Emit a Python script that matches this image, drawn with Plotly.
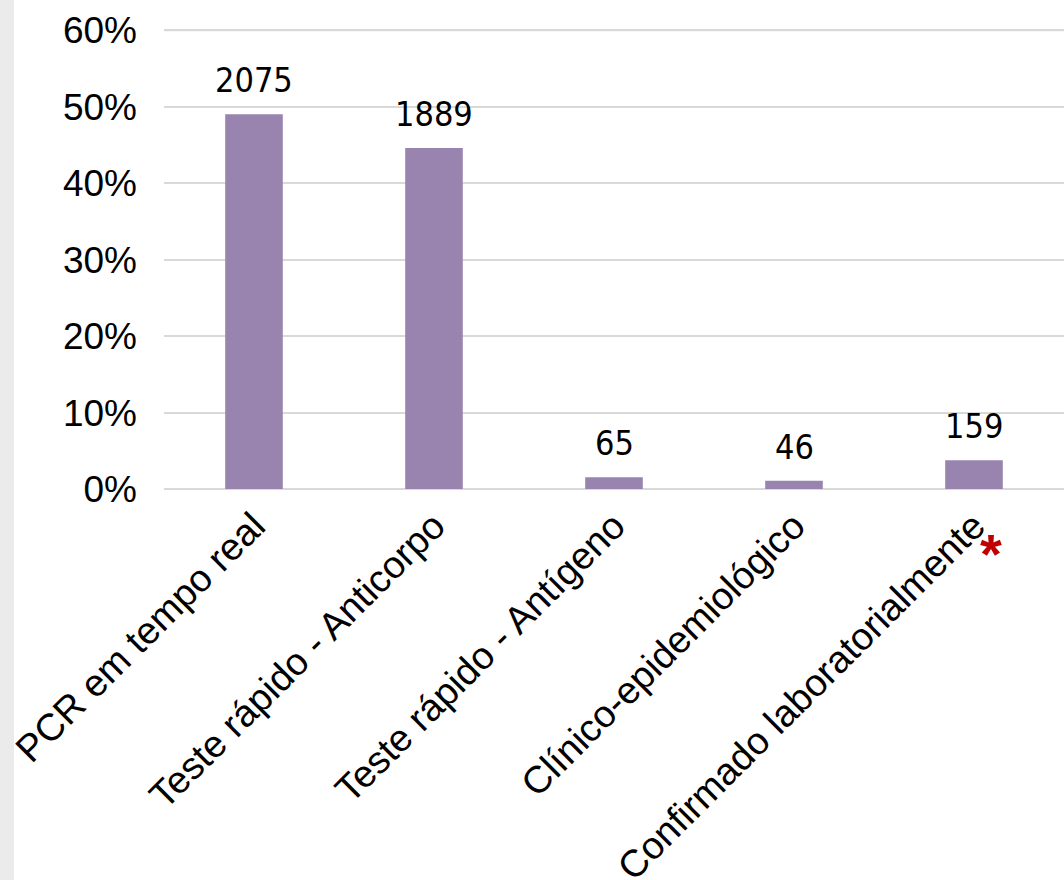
import plotly.graph_objects as go

categories = ["PCR em tempo real", "Teste rápido - Anticorpo", "Teste rápido - Antígeno",
              "Clínico-epidemiológico", "Confirmado laboratorialmente"]
counts = [2075, 1889, 65, 46, 159]
tick_labels = ["PCR em tempo real", "Teste rápido - Anticorpo", "Teste rápido - Antígeno",
               "Clínico-epidemiológico", "Confirmado laboratorialmente"]
y_ticks = [0, 0.1, 0.2, 0.3, 0.4, 0.5, 0.6]
footnote_category = "Confirmado laboratorialmente"

total = sum(counts)
shares = [c / total for c in counts]

GRID = "#d9d9d9"
Y_MAX = 0.62

fig = go.Figure()
fig.add_trace(go.Bar(
    x=categories, y=shares,
    marker=dict(color="#9884ae", line=dict(width=0)),
    width=0.32,
    cliponaxis=False,
    hoverinfo="skip",
))

for cat, s, c in zip(categories, shares, counts):
    fig.add_annotation(x=cat, y=s, text=str(c), showarrow=False,
                       yanchor="bottom", yshift=12,
                       font=dict(family="DejaVu Sans Condensed", size=34, color="black"))

# red asterisk marking the last category
fig.add_annotation(x=footnote_category, y=0, text="<b>*</b>", showarrow=False,
                   xanchor="center", yanchor="middle", xshift=17, yshift=-64,
                   font=dict(family="Liberation Sans", size=56, color="#c00000"))

fig.update_layout(
    width=1064, height=880,
    margin=dict(l=164, r=0, t=15, b=391),
    paper_bgcolor="white", plot_bgcolor="white",
    showlegend=False,
    shapes=[
        dict(type="rect", xref="paper", yref="paper", x0=-164/900, x1=-150/900,
             y0=-391/474, y1=1+15/474, fillcolor="#ebebeb", line=dict(width=0), layer="below"),
        dict(type="line", xref="paper", yref="y", x0=0, x1=1, y0=y_ticks[-1], y1=y_ticks[-1],
             line=dict(color=GRID, width=2), layer="above"),
    ],
)
fig.update_yaxes(
    range=[0, Y_MAX], tickvals=y_ticks, tickformat=".0%",
    showgrid=True, gridcolor=GRID, gridwidth=2,
    zeroline=True, zerolinecolor=GRID, zerolinewidth=2,
    tickfont=dict(family="Liberation Sans", size=37, color="black"),
    ticklabelstandoff=26, showline=False, automargin=False,
)
fig.update_xaxes(
    tickmode="array", tickvals=categories, ticktext=tick_labels,
    tickangle=-45, automargin=False, ticklabelstandoff=6,
    tickfont=dict(family="Liberation Sans", size=38, color="black"),
    showline=False, showgrid=False,
)

fig.write_html("out.html", config={"displayModeBar": False},
               post_script="document.body.style.margin='0';")
